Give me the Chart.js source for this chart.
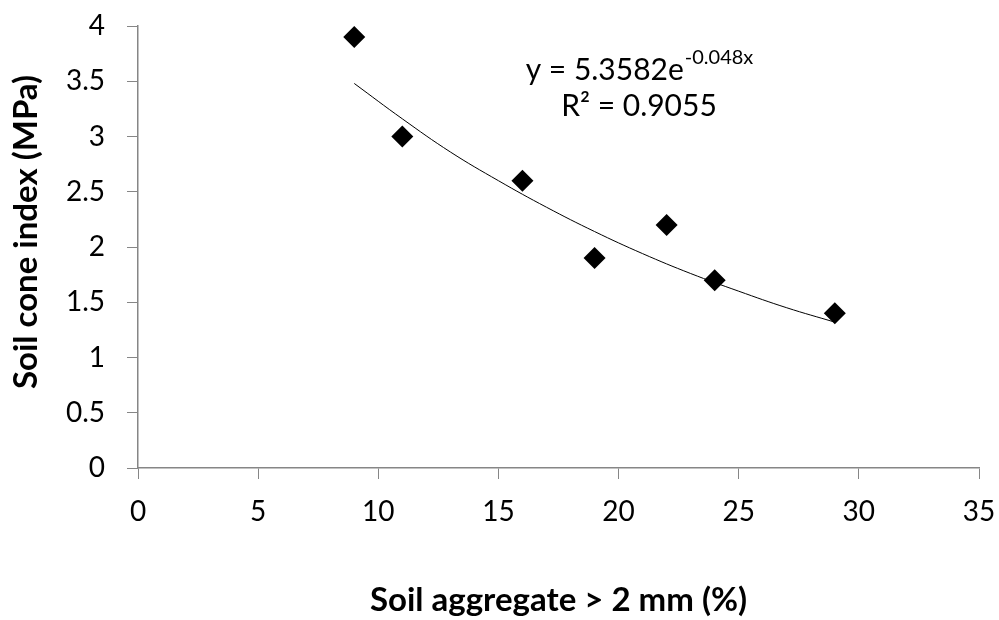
<!DOCTYPE html>
<html>
<head>
<meta charset="utf-8">
<script src="https://cdn.jsdelivr.net/npm/chart.js@4/dist/chart.umd.min.js"></script>
<style>
html,body{margin:0;padding:0;background:#fff;}
#wrap{width:999px;height:620px;position:relative;}
</style>
</head>
<body>
<div id="wrap"><canvas id="c" width="999" height="620"></canvas></div>
<script>
// Observed data
const aggregatePct = [9, 11, 16, 19, 22, 24, 29];
const coneIndex = [3.9, 3.0, 2.6, 1.9, 2.2, 1.7, 1.4];
// Trendline
const trendX = [9, 11, 13, 15, 17, 19, 21, 23, 25, 27, 29];
const trendY = [3.48, 3.16, 2.86, 2.60, 2.36, 2.14, 1.94, 1.76, 1.60, 1.45, 1.32];
// Axis ticks
const xTicks = [0, 5, 10, 15, 20, 25, 30, 35];
const yTicks = [0, 0.5, 1, 1.5, 2, 2.5, 3, 3.5, 4];
const eqLine1 = "y = 5.3582e";
const eqSup = "-0.048x";
const eqLine2 = "R\u00B2 = 0.9055";
const eqPos = {x: 20.85, y1: 3.60, y2: 3.27};
const yTitle = "Soil cone index (MPa)";

const FONT = "Lato, 'Open Sans', sans-serif";
const AXIS = '#868686';

const eqPlugin = {
  id: 'eq',
  afterDatasetsDraw(chart) {
    const {ctx, scales, chartArea} = chart;
    const cx = scales.x.getPixelForValue(eqPos.x);
    const y1 = scales.y.getPixelForValue(eqPos.y1);
    const y2 = scales.y.getPixelForValue(eqPos.y2);
    ctx.save();
    ctx.fillStyle = '#000';
    ctx.textBaseline = 'middle';
    ctx.font = "30px " + FONT;
    const w1 = ctx.measureText(eqLine1).width;
    ctx.font = "20px " + FONT;
    const w2 = ctx.measureText(eqSup).width;
    let start = cx - (w1 + w2) / 2;
    ctx.font = "30px " + FONT;
    ctx.textAlign = 'left';
    ctx.fillText(eqLine1, start, y1);
    ctx.font = "20px " + FONT;
    ctx.fillText(eqSup, start + w1 + 1, y1 - 13);
    ctx.font = "30px " + FONT;
    ctx.textAlign = 'center';
    ctx.fillText(eqLine2, cx, y2);
    // y axis title
    ctx.translate(26, (chartArea.top + chartArea.bottom) / 2 - 15);
    ctx.rotate(-Math.PI / 2);
    ctx.font = "bold 33px " + FONT;
    ctx.textAlign = 'center';
    ctx.textBaseline = 'middle';
    ctx.fillText(yTitle, 0, 0);
    ctx.restore();
  }
};

function noPad(axis) {
  axis.paddingTop = 0; axis.paddingBottom = 0;
  axis.paddingLeft = 0; axis.paddingRight = 0;
}

new Chart(document.getElementById('c'), {
  type: 'scatter',
  data: {
    datasets: [
      {
        label: 'Trend',
        data: trendX.map((x, i) => ({x, y: trendY[i]})),
        showLine: true,
        borderColor: '#000',
        borderWidth: 1,
        pointRadius: 0,
        tension: 0.4,
        fill: false
      },
      {
        label: 'Soil cone index',
        data: aggregatePct.map((x, i) => ({x, y: coneIndex[i]})),
        pointStyle: 'rectRot',
        pointRadius: 11,
        backgroundColor: '#000',
        borderColor: '#000',
        borderWidth: 0
      }
    ]
  },
  options: {
    responsive: false,
    animation: false,
    layout: {padding: {left: 0, right: 20, top: 26, bottom: 0}},
    plugins: {legend: {display: false}, tooltip: {enabled: false}},
    scales: {
      x: {
        type: 'linear', min: 0, max: 35,
        afterBuildTicks(axis) { axis.ticks = xTicks.map(v => ({value: v})); },
        afterFit(axis) { axis.height = 152; noPad(axis); },
        grid: {drawOnChartArea: false, drawTicks: true, tickLength: 11, color: AXIS},
        border: {color: AXIS, width: 1.5},
        ticks: {color: '#000', font: {family: FONT, size: 28}, padding: 16, maxRotation: 0,
                callback: v => String(v)},
        title: {display: true, text: 'Soil aggregate > 2 mm (%)', color: '#000',
                font: {family: FONT, size: 33, weight: 'bold'}, padding: {top: 0, bottom: 0}}
      },
      y: {
        type: 'linear', min: 0, max: 4,
        afterBuildTicks(axis) { axis.ticks = yTicks.map(v => ({value: v})); },
        afterFit(axis) { axis.width = 138; noPad(axis); },
        grid: {drawOnChartArea: false, drawTicks: true, tickLength: 11, color: AXIS},
        border: {color: AXIS, width: 1.5},
        ticks: {color: '#000', font: {family: FONT, size: 28}, padding: 22,
                callback: v => String(v)},
        title: {display: false}
      }
    }
  },
  plugins: [eqPlugin]
});
</script>
</body>
</html>
